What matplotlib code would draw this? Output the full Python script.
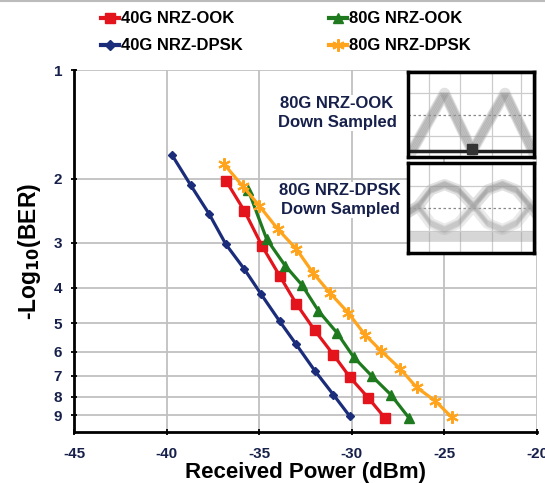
import numpy as np
import matplotlib.pyplot as plt
from matplotlib.lines import Line2D
from matplotlib.ticker import NullLocator

plt.rcParams['font.family'] = ['Liberation Sans', 'DejaVu Sans']

# received power (dBm) vs -log10(BER)
p_40_ook = [-36.8, -35.8, -34.85, -33.9, -33.0, -32.0, -31.0, -30.1, -29.1, -28.2]
b_40_ook = [2.02, 2.45, 3.06, 3.70, 4.42, 5.24, 6.11, 7.06, 8.06, 9.16]
p_80_ook = [-35.6, -34.6, -33.6, -32.7, -31.8, -30.8, -29.9, -28.9, -27.9, -26.9]
b_80_ook = [2.14, 2.93, 3.47, 3.92, 4.63, 5.32, 6.21, 7.02, 7.88, 9.16]
p_40_dpsk = [-39.7, -38.7, -37.7, -36.8, -35.8, -34.9, -33.9, -33.0, -32.0, -31.0, -30.1]
b_40_dpsk = [1.72, 2.08, 2.50, 3.03, 3.55, 4.16, 4.94, 5.73, 6.77, 7.88, 9.06]
p_80_dpsk = [-36.9, -35.9, -35.0, -34.0, -33.0, -32.1, -31.2, -30.2, -29.3, -28.4, -27.4, -26.5, -25.5, -24.6]
b_80_dpsk = [1.82, 2.09, 2.37, 2.75, 3.12, 3.63, 4.12, 4.68, 5.38, 5.98, 6.68, 7.53, 8.2, 9.11]

xticks = [-45, -40, -35, -30, -25, -20]
yticks = [1, 2, 3, 4, 5, 6, 7, 8, 9]

# eye diagram shapes for the inset (panel units 0..1)
ook_x = [0.03, 0.29, 0.51, 0.77, 0.99]
ook_y = [0.07, 0.75, 0.07, 0.75, 0.07]
dpsk_x = [0.0, 0.08, 0.18, 0.29, 0.40, 0.52, 0.63, 0.75, 0.86, 0.97, 1.0]
dpsk_up = [0.45, 0.52, 0.70, 0.76, 0.70, 0.52, 0.70, 0.76, 0.70, 0.52, 0.47]
dpsk_lo = [0.45, 0.52, 0.33, 0.26, 0.33, 0.52, 0.33, 0.26, 0.33, 0.52, 0.47]

red = '#e3141c'
green = '#1f7a1f'
blue = '#1b2d7a'
orange = '#ffa41c'
txt = '#16204a'

fig = plt.figure(figsize=(5.45, 4.83), dpi=100)
ax = fig.add_axes([74/545, 1-432/483, 463/545, 362/483])

ax.plot(p_40_ook, b_40_ook, color=red, lw=2.3, marker='s', ms=7, zorder=4)
ax.plot(p_80_ook, b_80_ook, color=green, lw=2.3, marker='^', ms=7, zorder=4)
ax.plot(p_40_dpsk, b_40_dpsk, color=blue, lw=2.3, marker='D', ms=4.5, zorder=4)
ax.plot(p_80_dpsk, b_80_dpsk, color=orange, lw=2.3, marker=(6, 2, 0), ms=9, mew=1.5, zorder=4)

ax.set_yscale('log')
ax.set_ylim(10, 1)
ax.set_xlim(-45, -20)
ax.set_yticks(yticks)
ax.set_yticklabels([str(v) for v in yticks])
ax.yaxis.set_minor_locator(NullLocator())
ax.set_xticks(xticks)
ax.set_xticklabels([str(v) for v in xticks])
ax.grid(True, color='#c0c0c0', lw=1.3)
ax.set_axisbelow(True)
for s in ['top', 'right']:
    ax.spines[s].set_visible(False)
for s in ['left', 'bottom']:
    ax.spines[s].set_linewidth(2)
ax.tick_params(direction='inout', length=5, width=1.3, labelsize=11, labelcolor=txt)
ax.tick_params(axis='y', pad=6)
ax.tick_params(axis='x', pad=8)
for lab in ax.get_xticklabels() + ax.get_yticklabels():
    lab.set_fontweight('bold')

ax.set_xlabel('Received Power (dBm)', fontsize=16, fontweight='bold', labelpad=1)
ax.set_ylabel('-Log$_{\\mathbf{10}}$(BER)', fontsize=16.5, fontweight='bold', labelpad=8)

handles = [
    Line2D([], [], color=red, lw=3, marker='s', ms=7),
    Line2D([], [], color=blue, lw=3, marker='D', ms=5),
    Line2D([], [], color=green, lw=3, marker='^', ms=7),
    Line2D([], [], color=orange, lw=3, marker=(6, 2, 0), ms=9, mew=1.5),
]
labels = ['40G NRZ-OOK', '40G NRZ-DPSK', '80G NRZ-OOK', '80G NRZ-DPSK']
fig.legend(handles, labels, ncol=2, loc='center', bbox_to_anchor=(0.525, 0.933),
           frameon=False, handlelength=1.05, handletextpad=0.15, columnspacing=5.2,
           labelspacing=0.72, prop={'size': 12, 'weight': 'bold'})

box = dict(facecolor='white', edgecolor='none', pad=1)
fig.text(337/545, 1-113/483, '80G NRZ-OOK\nDown Sampled', ha='center', va='center',
         fontsize=12, fontweight='bold', color=txt, linespacing=1.35, bbox=box)
fig.text(340/545, 1-200/483, '80G NRZ-DPSK\nDown Sampled', ha='center', va='center',
         fontsize=12, fontweight='bold', color=txt, linespacing=1.35, bbox=box)

# inset eye diagrams
top = fig.add_axes([408/545, 1-157/483, 126/545, 85/483])
bot = fig.add_axes([408/545, 1-253/483, 126/545, 90/483])
for a in (top, bot):
    a.set_xlim(0, 1)
    a.set_ylim(0, 1)
    a.set_xticks([])
    a.set_yticks([])
    for s in a.spines.values():
        s.set_linewidth(2.5)
    for gx in [0.17, 0.41, 0.67, 0.9]:
        a.axvline(gx, color='#cccccc', lw=0.9)
    for gy in [0.25, 0.75]:
        a.axhline(gy, color='#cccccc', lw=0.9)
    a.axhline(0.5, color='#888888', lw=0.9, ls=(0, (2, 2)))

# smeared traces: the same shape drawn a few times with small offsets
for off in [-0.03, -0.015, 0.0, 0.015, 0.03]:
    top.plot([x + off for x in ook_x], ook_y, color='#777777', lw=1.6, alpha=0.35)
    bot.plot(dpsk_x, [y + off for y in dpsk_up], color='#777777', lw=1.6, alpha=0.3)
    bot.plot(dpsk_x, [y + off for y in dpsk_lo], color='#888888', lw=1.6, alpha=0.25)
top.plot(ook_x, ook_y, color='#aaaaaa', lw=8, alpha=0.35, solid_joinstyle='round')
top.plot([0.0, 1.0], [0.07, 0.07], color='#222222', lw=2.5)
top.plot([0.51], [0.1], marker='s', ms=7, color='#333333')

bot.plot(dpsk_x, dpsk_up, color='#aaaaaa', lw=8, alpha=0.35, solid_joinstyle='round')
bot.plot(dpsk_x, dpsk_lo, color='#bbbbbb', lw=8, alpha=0.3, solid_joinstyle='round')
bot.plot([0.0, 1.0], [0.18, 0.18], color='#999999', lw=7, alpha=0.4)

fig.add_artist(Line2D([0, 1], [0.998, 0.998], color='#bbbbbb', lw=1.5))

fig.savefig('out.png', dpi=100)
